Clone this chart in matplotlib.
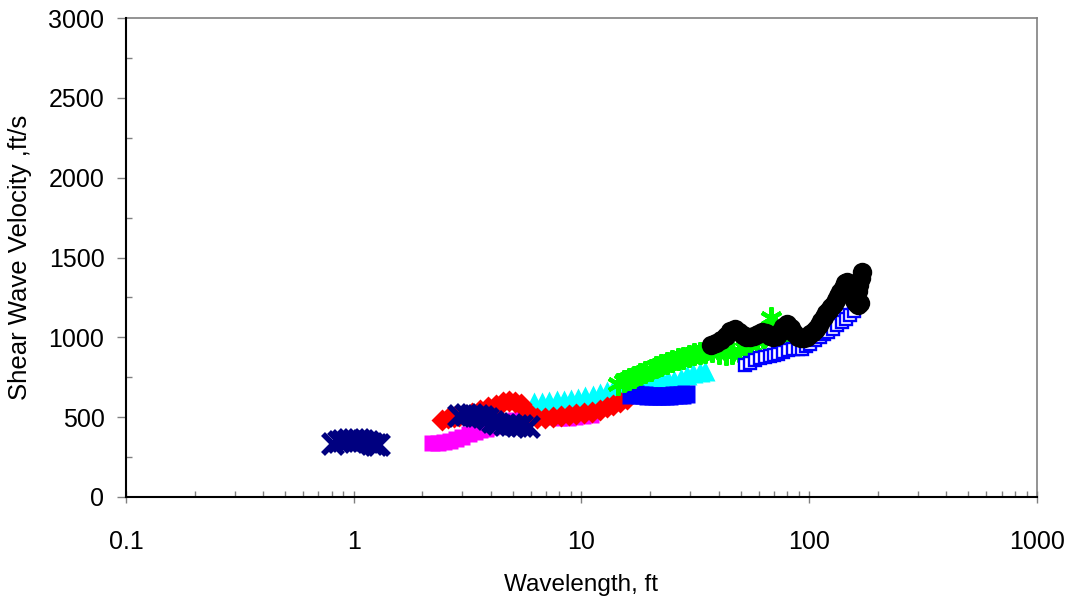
import matplotlib
matplotlib.use("Agg")
import matplotlib.pyplot as plt
from matplotlib.ticker import FixedLocator, NullFormatter, FuncFormatter

plt.rcParams['font.family'] = ['Liberation Sans', 'DejaVu Sans']

# ---- data (wavelength ft, shear wave velocity ft/s) ----
navy1_x = [0.81, 0.86, 0.9, 0.95, 1.0, 1.05, 1.1, 1.15, 1.2, 1.25, 1.29]
navy1_v = [335, 345, 350, 355, 357, 356, 352, 345, 335, 328, 325]

navy2_x = [2.9, 3.1, 3.3, 3.5, 3.7, 3.9, 4.1, 4.3, 4.6, 4.9, 5.2, 5.5, 5.9]
navy2_v = [505, 512, 515, 510, 500, 488, 470, 458, 452, 450, 447, 445, 440]

magenta_x = [2.2, 2.35, 2.5, 2.65, 2.8, 3.0, 3.2, 3.4, 3.6, 3.8, 4.0, 4.2, 4.5,
             4.8, 5.1, 5.5, 6.0, 6.5, 7.0, 7.5, 8.0, 8.7, 9.4, 10.2, 11.0]
magenta_v = [340, 340, 343, 350, 362, 378, 395, 408, 418, 428, 436, 444, 455,
             468, 480, 495, 508, 515, 510, 502, 497, 495, 500, 508, 516]

red_x = [2.45, 2.6, 2.75, 2.9, 3.1, 3.3, 3.6, 3.9, 4.2, 4.5, 4.8, 5.1, 5.4,
         5.7, 6.0, 6.4, 6.9, 7.5, 8.1, 8.8, 9.5, 10.3, 11.1, 12.0, 12.9,
         13.8, 14.8, 15.8]
red_v = [485, 492, 498, 505, 515, 528, 545, 562, 578, 592, 600, 598, 580,
         545, 510, 495, 495, 500, 505, 512, 518, 525, 535, 548, 562,
         578, 595, 612]

cyan_x = [6.2, 6.7, 7.2, 7.8, 8.4, 9.0, 9.7, 10.4, 11.2, 12.0, 12.9, 13.8, 14.8,
          15.9, 17.0, 18.3, 19.6, 21.0, 22.5, 24.0, 25.6, 27.3, 29.0, 31.0,
          33.0, 34.8]
cyan_v = [595, 598, 600, 605, 610, 616, 622, 630, 640, 652, 665, 675, 686,
          696, 705, 714, 722, 732, 740, 735, 730, 748, 762, 775, 785, 792]

bluefill_x = [16.5, 17.2, 18.0, 18.8, 19.6, 20.5, 21.4, 22.3, 23.3, 24.3,
              25.4, 26.5, 27.6, 28.8]
bluefill_v = [640, 645, 640, 636, 634, 632, 630, 630, 632, 635, 638, 640,
              641, 644]

green_x = [14.5, 15.3, 16.1, 17.0, 18.0, 19.0, 20.1, 21.2, 22.4, 23.7, 25.0,
           26.4, 27.9, 29.5, 31.2, 33.0, 35.0, 37.5, 40.0, 43.0, 46.0, 49.0,
           52.0, 55.5, 59.0, 62.5, 66.0, 68.0, 71.0, 74.0]
green_v = [710, 725, 738, 752, 768, 782, 798, 812, 826, 838, 850, 862, 872,
           884, 895, 902, 908, 912, 900, 895, 900, 915, 935, 955, 975, 1000,
           1030, 1120, 1060, 1010]

blueopen_x = [52, 55, 58, 61, 64, 67, 70, 73, 77, 81, 85, 89, 93, 97, 101,
              106, 111, 116, 121, 127, 133, 139, 145, 151, 157]
blueopen_v = [825, 840, 855, 868, 876, 884, 890, 896, 906, 918, 928, 925,
              930, 945, 960, 985, 1005, 1020, 1035, 1055, 1075, 1095, 1115,
              1140, 1165]

black_x = [37, 39, 41, 43, 45, 47, 49, 51, 53, 55, 57, 59.5, 62, 64.5, 67,
           69.5, 72, 74.5, 77, 80, 83, 86, 89, 92, 95, 98, 101, 104, 107,
           110, 113, 116, 119, 122, 125, 128, 131, 134, 137, 140, 143, 146,
           149, 152, 155, 158, 161, 164, 167, 163, 166, 169, 171]
black_v = [950, 965, 985, 1010, 1040, 1055, 1035, 1015, 1005, 1000, 1008,
           1020, 1035, 1025, 1010, 1002, 1010, 1035, 1065, 1085, 1060, 1030,
           1005, 995, 995, 1005, 1020, 1035, 1055, 1080, 1105, 1130, 1150,
           1170, 1190, 1210, 1235, 1260, 1285, 1310, 1340, 1345, 1310, 1280,
           1255, 1235, 1215, 1205, 1215, 1290, 1330, 1370, 1410]

# ---- figure ----
fig = plt.figure(figsize=(10.73, 6.0), dpi=100)
ax = fig.add_axes([126 / 1073, 1 - 497 / 600, (1037 - 126) / 1073, (497 - 18) / 600])

ax.plot(magenta_x, magenta_v, ls='none', marker='s', ms=11, color='#FF00FF', mec='none', zorder=2)
ax.plot(cyan_x, cyan_v, ls='none', marker='^', ms=14, color='#00FFFF', mec='none', zorder=3)
ax.plot(red_x, red_v, ls='none', marker='D', ms=11.5, color='#FF0000', mec='none', zorder=4)
ax.plot(navy1_x, navy1_v, ls='none', marker='x', ms=14, mew=4, color='#000080', zorder=5)
ax.plot(navy2_x, navy2_v, ls='none', marker='x', ms=14, mew=4, color='#000080', zorder=5)
ax.plot(bluefill_x, bluefill_v, ls='none', marker='s', ms=12.5, color='#0000FF', mec='none', zorder=6)
ax.plot(green_x, green_v, ls='none', marker=(6, 2, 0), ms=16, mew=3, color='#00FF00', zorder=7)
ax.plot(blueopen_x, blueopen_v, ls='none', marker='s', ms=8, mfc='white', mec='#0000FF', mew=1.7, zorder=8)
ax.plot(black_x, black_v, ls='none', marker='o', ms=14, color='black', mec='none', zorder=9)

ax.set_xscale('log')
ax.set_xlim(0.1, 1000)
ax.set_ylim(0, 3000)

ax.xaxis.set_major_locator(FixedLocator([0.1, 1, 10, 100, 1000]))
ax.xaxis.set_major_formatter(FuncFormatter(lambda v, p: {0.1: '0.1', 1: '1', 10: '10', 100: '100', 1000: '1000'}.get(round(v, 3), '')))
minors = [m * d for d in [0.1, 1, 10, 100] for m in range(2, 10)]
ax.xaxis.set_minor_locator(FixedLocator(minors))
ax.xaxis.set_minor_formatter(NullFormatter())

ax.yaxis.set_major_locator(FixedLocator([0, 500, 1000, 1500, 2000, 2500, 3000]))
ax.yaxis.set_minor_locator(FixedLocator([250, 750, 1250, 1750, 2250, 2750]))

tick_color = '#808080'
ax.tick_params(axis='x', which='major', direction='inout', length=8, width=1, color=tick_color,
               labelsize=18, pad=20)
ax.tick_params(axis='x', which='minor', direction='in', length=4, width=1, color=tick_color)
ax.tick_params(axis='y', which='major', direction='out', length=6.5, width=1, color=tick_color,
               labelsize=18, pad=9)
ax.tick_params(axis='y', which='minor', direction='in', length=4, width=1, color=tick_color)

for s in ['left', 'bottom']:
    ax.spines[s].set_color('black')
    ax.spines[s].set_linewidth(1.5)
    ax.spines[s].set_zorder(10)
for s in ['top', 'right']:
    ax.spines[s].set_color(tick_color)
    ax.spines[s].set_linewidth(1.2)

ax.set_xlabel('Wavelength, ft', fontsize=17.5, labelpad=14)
ax.set_ylabel('Shear Wave Velocity ,ft/s', fontsize=18.5, labelpad=12)

fig.savefig('out.png', dpi=100)
